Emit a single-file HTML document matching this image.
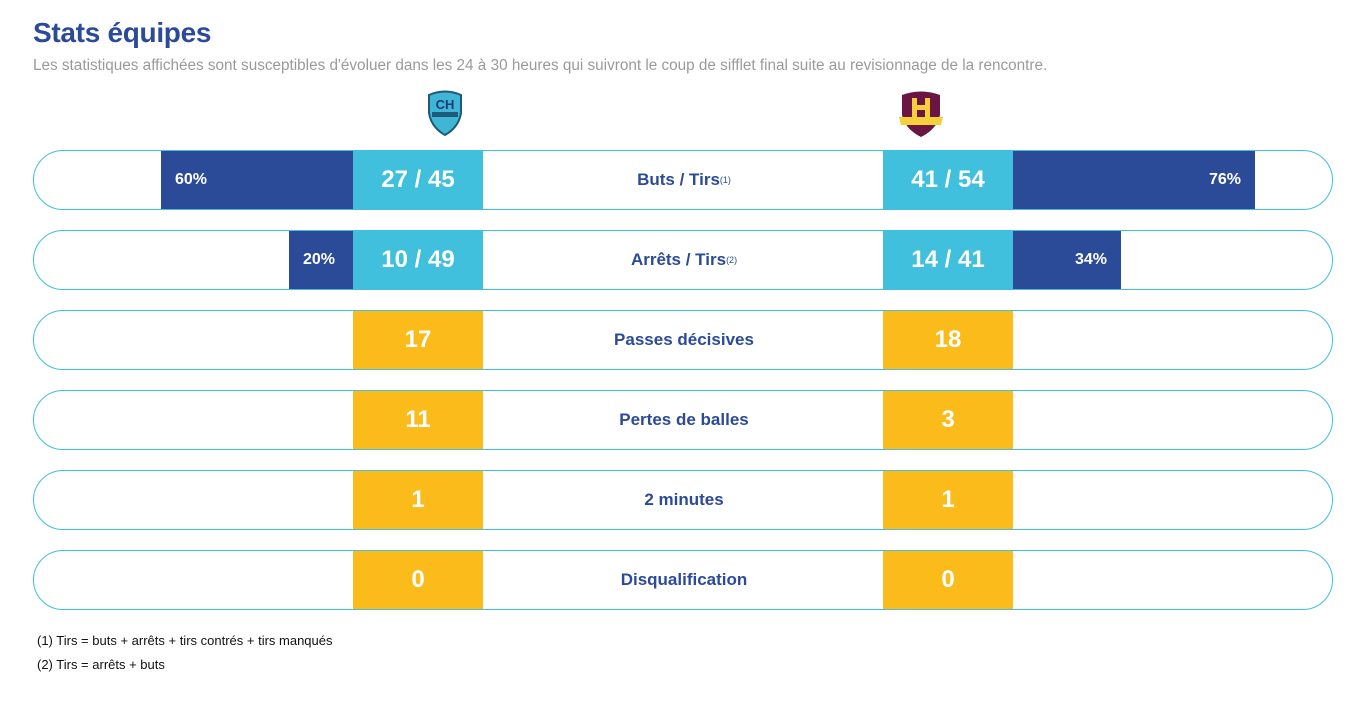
<!DOCTYPE html>
<html><head><meta charset="utf-8"><style>
*{margin:0;padding:0;box-sizing:border-box}
body{width:1362px;height:718px;background:#fff;font-family:"Liberation Sans",sans-serif;position:relative;overflow:hidden}
h1{position:absolute;left:33px;top:17px;font-size:28px;font-weight:bold;color:#2b4a98;letter-spacing:-0.3px}
.sub{position:absolute;left:33px;top:57px;font-size:15.3px;color:#9a9a9a}
.row{position:absolute;left:33px;width:1300px;height:60px;border:1px solid #40c0dc;border-radius:30px}
.b{position:absolute;top:0;height:58px;color:#fff;font-weight:bold;display:flex;align-items:center}
.dk{background:#2b4a98;font-size:16px}
.cy{background:#40c0dc;font-size:24px;justify-content:center}
.ye{background:#fbbb1a;font-size:24px;justify-content:center}
.lab{position:absolute;left:450px;width:400px;top:0;height:58px;display:flex;align-items:center;justify-content:center;color:#2b4a98;font-size:17px;font-weight:bold}
.lab sup{font-size:9px;font-weight:normal;vertical-align:7px}
.fn{position:absolute;left:37px;font-size:13px;color:#111}
</style></head><body>
<h1>Stats équipes</h1>
<div class="sub">Les statistiques affichées sont susceptibles d'évoluer dans les 24 à 30 heures qui suivront le coup de sifflet final suite au revisionnage de la rencontre.</div>
<svg style="position:absolute;left:426px;top:89px" width="38" height="48" viewBox="0 0 38 48"><path d="M3 6 Q19 -1 35 6 L35 24 Q33 38 19 46 Q5 38 3 24Z" fill="#3fb6d6" stroke="#1d5a7a" stroke-width="2"/><text x="19" y="20" font-size="13" font-weight="bold" fill="#1d3a7a" text-anchor="middle" font-family="Liberation Sans">CH</text><rect x="6" y="23" width="26" height="5" fill="#1d5a7a"/></svg>
<svg style="position:absolute;left:897px;top:89px" width="48" height="50" viewBox="0 0 48 50"><path d="M5 6 Q24 -1 43 6 L43 26 Q40 40 24 48 Q8 40 5 26Z" fill="#6a1542"/><rect x="15" y="9" width="18" height="20" fill="#f5d03a"/><rect x="20" y="9" width="8" height="7" fill="#6a1542"/><rect x="20" y="21" width="8" height="8" fill="#6a1542"/><path d="M2 28 L46 28 L44 36 L4 36Z" fill="#f5d03a"/></svg>

<div class="row" style="top:150px"><div class="b dk" style="left:127px;width:192px;padding-left:14px">60%</div><div class="b cy" style="left:319px;width:130px">27 / 45</div><div class="lab">Buts / Tirs<sup>(1)</sup></div><div class="b cy" style="left:849px;width:130px">41 / 54</div><div class="b dk" style="left:979px;width:242px;justify-content:flex-end;padding-right:14px">76%</div></div>
<div class="row" style="top:230px"><div class="b dk" style="left:255px;width:64px;padding-left:14px">20%</div><div class="b cy" style="left:319px;width:130px">10 / 49</div><div class="lab">Arrêts / Tirs<sup>(2)</sup></div><div class="b cy" style="left:849px;width:130px">14 / 41</div><div class="b dk" style="left:979px;width:108px;justify-content:flex-end;padding-right:14px">34%</div></div>
<div class="row" style="top:310px"><div class="b ye" style="left:319px;width:130px">17</div><div class="lab">Passes décisives</div><div class="b ye" style="left:849px;width:130px">18</div></div>
<div class="row" style="top:390px"><div class="b ye" style="left:319px;width:130px">11</div><div class="lab">Pertes de balles</div><div class="b ye" style="left:849px;width:130px">3</div></div>
<div class="row" style="top:470px"><div class="b ye" style="left:319px;width:130px">1</div><div class="lab">2 minutes</div><div class="b ye" style="left:849px;width:130px">1</div></div>
<div class="row" style="top:550px"><div class="b ye" style="left:319px;width:130px">0</div><div class="lab">Disqualification</div><div class="b ye" style="left:849px;width:130px">0</div></div>
<div class="fn" style="top:633px">(1) Tirs = buts + arrêts + tirs contrés + tirs manqués</div>
<div class="fn" style="top:657px">(2) Tirs = arrêts + buts</div>
</body></html>
